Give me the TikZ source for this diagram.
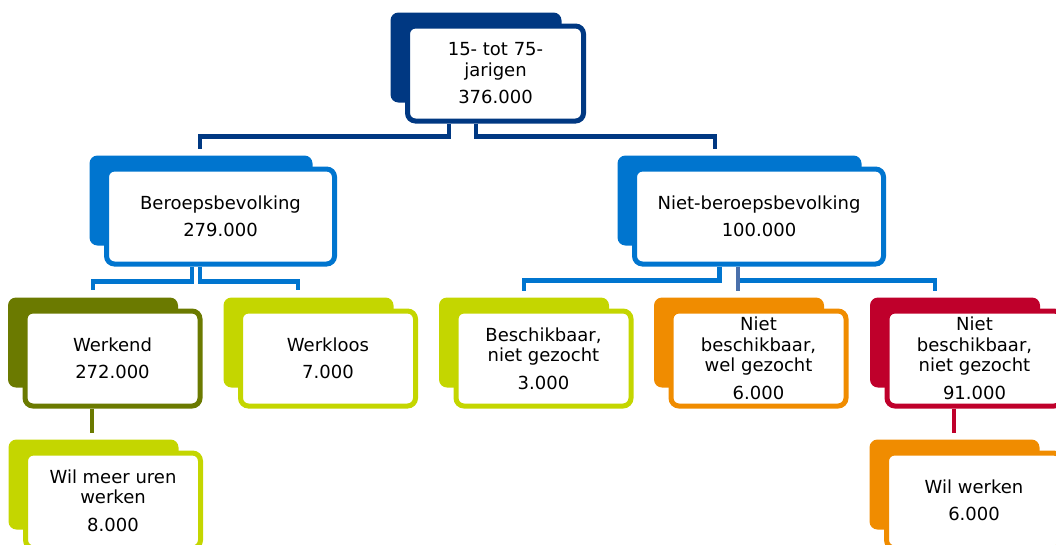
\documentclass[tikz,border=0pt]{standalone}
\usepackage{fontspec}
\setmainfont{DejaVu Sans}
\usepackage{tikz}
\usetikzlibrary{positioning}
\usetikzlibrary{backgrounds}
\tikzset{orgbox/.style = {draw=#1, line width=5pt, fill=white, rounded corners=8pt,
                          minimum width=175pt, minimum height=95pt, align=center,
                          inner sep=2pt, font=\fontsize{18}{20.5}\selectfont},
         conn/.style = {line width=4.5pt, #1}}
\definecolor{mdarkblue}{rgb}{0.0, 0.22, 0.51}
\definecolor{mblue}{rgb}{0.0, 0.46, 0.81}
\definecolor{molive}{rgb}{0.42, 0.48, 0.0}
\definecolor{mlime}{rgb}{0.77, 0.84, 0.0}
\definecolor{morange}{rgb}{0.94, 0.55, 0.0}
\definecolor{mred}{rgb}{0.75, 0.0, 0.17}
\definecolor{mslate}{rgb}{0.29, 0.44, 0.67}

\begin{document}
\begin{tikzpicture}[x=1pt, y=1pt]
    \useasboundingbox (0, 0) rectangle (1056, -544);

    \node [orgbox=mdarkblue, minimum width=176pt] (top) at (495.5, -73.5) {15- tot 75-\\jarigen\\[7pt]376.000};

    \node [orgbox=mblue, minimum width=228pt] (bb) at (220.5, -216.5) {Beroepsbevolking\\[7pt]279.000};
    \node [orgbox=mblue, minimum width=249pt] (nbb) at (759, -216.5) {Niet-beroepsbevolking\\[7pt]100.000};

    \node [orgbox=molive] (werkend) at (112.5, -358.5) {Werkend\\[7pt]272.000};
    \node [orgbox=mlime] (werkloos) at (328, -358.5) {Werkloos\\[7pt]7.000};
    \node [orgbox=mlime] (beschikbaar) at (543.5, -358.5) {Beschikbaar,\\niet gezocht\\[7pt]3.000};
    \node [orgbox=morange] (nbwg) at (758.5, -358.5) {Niet\\beschikbaar,\\wel gezocht\\[7pt]6.000};
    \node [orgbox=mred] (nbng) at (974.5, -358.5) {Niet\\beschikbaar,\\niet gezocht\\[7pt]91.000};

    \node [orgbox=mlime] (wilmeer) at (113, -500.5) {Wil meer uren\\werken\\[7pt]8.000};
    \node [orgbox=morange] (wilwerken) at (974, -500.5) {Wil werken\\[7pt]6.000};

    \begin{scope}[on background layer]
      \foreach \n/\c in {top/mdarkblue, bb/mblue, nbb/mblue, werkend/molive, werkloos/mlime,
                         beschikbaar/mlime, nbwg/morange, nbng/mred, wilmeer/mlime, wilwerken/morange}
        \fill [\c, rounded corners=8pt] ([shift={(-14.5, 11)}]\n.north west) rectangle ([shift={(-24.5, 21)}]\n.south east);
    \end{scope}

    \draw [conn=mdarkblue] ([xshift=-46.5pt]top.south) -- ++(0, -13) -| ([xshift=-20.5pt, yshift=18pt]bb.north);
    \draw [conn=mdarkblue] ([xshift=-19.5pt]top.south) -- ++(0, -13) -| ([xshift=-44pt, yshift=18pt]nbb.north);

    \draw [conn=mblue] ([xshift=-28.5pt]bb.south) -- ++(0, -15) -| ([xshift=-19.5pt, yshift=19pt]werkend.north);
    \draw [conn=mblue] ([xshift=-20.5pt]bb.south) -- ++(0, -15) -| ([xshift=-30pt, yshift=19pt]werkloos.north);

    \draw [conn=mblue] ([xshift=-39.5pt]nbb.south) -- ++(0, -14) -| ([xshift=-19.5pt, yshift=18pt]beschikbaar.north);
    \draw [conn=mblue] ([xshift=-21pt]nbb.south) -- ++(0, -14) -| ([xshift=-39.5pt, yshift=18pt]nbng.north);
    \draw [conn=mslate] ([xshift=-21pt]nbb.south) -- ([xshift=-20.5pt, yshift=18pt]nbwg.north);

    \draw [conn=molive] ([xshift=-20.5pt]werkend.south) -- ([xshift=-21pt, yshift=18pt]wilmeer.north);
    \draw [conn=mred] ([xshift=-20.5pt]nbng.south) -- ([xshift=-20pt, yshift=18pt]wilwerken.north);
  \end{tikzpicture}
\end{document}
